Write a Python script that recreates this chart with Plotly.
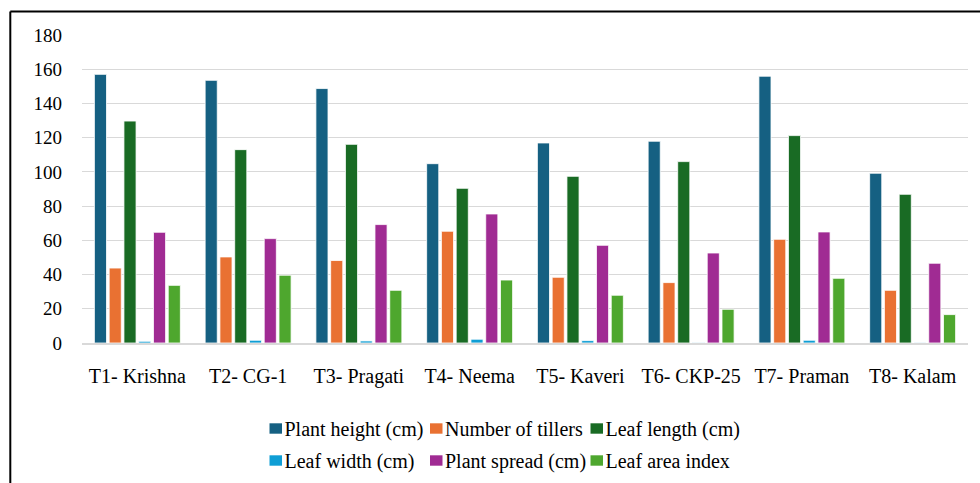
import plotly.graph_objects as go

categories = ["T1- Krishna", "T2- CG-1", "T3- Pragati", "T4- Neema",
              "T5- Kaveri", "T6- CKP-25", "T7- Praman", "T8- Kalam"]

plant_height = [157, 153.5, 148.7, 104.8, 116.9, 117.9, 155.9, 99.2]
number_of_tillers = [43.8, 50.3, 48.2, 65.3, 38.4, 35.3, 60.6, 30.8]
leaf_length = [129.7, 113.0, 116.1, 90.4, 97.4, 106.0, 121.2, 86.9]
leaf_width = [1.0, 1.6, 1.2, 2.2, 1.4, 0.3, 1.6, 0.3]
plant_spread = [64.7, 61.0, 69.2, 75.4, 57.1, 52.6, 64.9, 46.6]
leaf_area_index = [33.7, 39.6, 30.8, 36.8, 27.9, 19.7, 37.8, 16.6]

series_names = ["Plant height (cm)", "Number of tillers", "Leaf length (cm)",
                "Leaf width (cm)", "Plant spread (cm)", "Leaf area index"]
series_values = [plant_height, number_of_tillers, leaf_length,
                 leaf_width, plant_spread, leaf_area_index]
series_colors = ["#156082", "#E97132", "#196B24", "#0F9ED5", "#A02B93", "#4EA72E"]

FONT = "Liberation Serif"

W, H = 980, 483
L, R, T, B = 82, 12, 35, 140
pw, ph = W - L - R, H - T - B

def px_x(p):
    return (p - L) / pw

def px_y(p):
    return (H - B - p) / ph

# legend placement in pixels: square left edge, row centre
legend_sq_x = [269.5, 430, 590.5, 269.5, 430, 590.5]
legend_row_y = [428.5, 428.5, 428.5, 460.5, 460.5, 460.5]
legend_ids = ["legend", "legend2", "legend3", "legend4", "legend5", "legend6"]

fig = go.Figure()
for name, vals, color in zip(series_names, series_values, series_colors):
    fig.add_trace(go.Bar(
        x=categories, y=vals, name=name, showlegend=False,
        marker=dict(color=color, line=dict(color="white", width=0.8)),
    ))

# legend entries (symbol drawn as a shape right next to the text)
shapes = []
legend_layout = {}
for name, color, lid, sx, ry in zip(series_names, series_colors, legend_ids,
                                    legend_sq_x, legend_row_y):
    fig.add_trace(go.Scatter(
        x=[None], y=[None], mode="markers", name=name, legend=lid,
        marker=dict(color="rgba(0,0,0,0)", size=0.1, opacity=0,
                    line=dict(width=0, color="rgba(0,0,0,0)")),
        showlegend=True, hoverinfo="skip",
    ))
    legend_layout[lid] = dict(
        x=px_x(sx + 16 - 41), y=px_y(ry), xanchor="left", yanchor="middle",
        orientation="h",
        font=dict(family=FONT, size=20, color="#000000"),
        bgcolor="rgba(0,0,0,0)", borderwidth=0, itemclick=False,
    )
    shapes.append(dict(
        type="rect", xref="paper", yref="paper",
        x0=px_x(sx), x1=px_x(sx + 12.5),
        y0=px_y(ry - 5.2), y1=px_y(ry + 5.2),
        fillcolor=color, line=dict(width=0),
    ))

# outer frame (top and left edges)
shapes += [
    dict(type="line", xref="paper", yref="paper",
         x0=px_x(10.3), x1=px_x(W + 5), y0=px_y(11.5), y1=px_y(11.5),
         line=dict(color="black", width=2)),
    dict(type="line", xref="paper", yref="paper",
         x0=px_x(10.3), x1=px_x(10.3), y0=px_y(11.5), y1=px_y(H + 5),
         line=dict(color="black", width=2)),
]

fig.update_layout(
    width=W, height=H,
    margin=dict(l=L, r=R, t=T, b=B, autoexpand=False),
    paper_bgcolor="white", plot_bgcolor="white",
    barmode="group", bargap=0.2, bargroupgap=0.18,
    font=dict(family=FONT, size=20, color="#000000"),
    showlegend=True,
    xaxis=dict(
        showline=True, linecolor="#d9d9d9", linewidth=1.5,
        ticks="", tickfont=dict(family=FONT, size=20, color="#000000"),
        ticklabelstandoff=14,
    ),
    yaxis=dict(
        range=[0, 180], dtick=20, tick0=0,
        showgrid=True, gridcolor="#d9d9d9", gridwidth=1.2,
        zeroline=False, showline=False, ticks="",
        tickfont=dict(family=FONT, size=19, color="#000000"),
        ticklabelstandoff=19,
    ),
    shapes=shapes,
    **legend_layout,
)

fig.write_html("out.html", config={"displayModeBar": False},
               post_script="document.body.style.margin='0';")
